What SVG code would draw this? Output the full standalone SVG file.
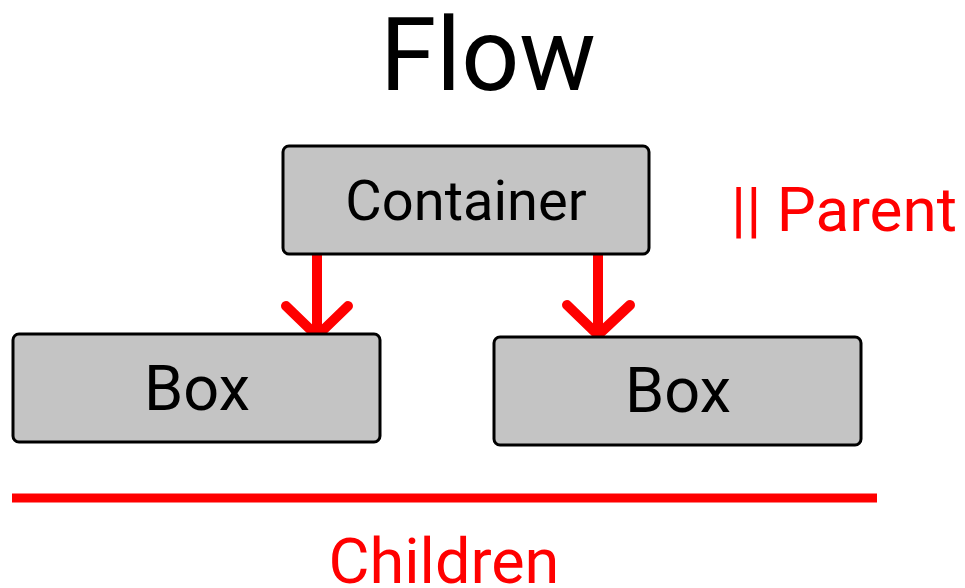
<svg xmlns="http://www.w3.org/2000/svg" width="965" height="588" viewBox="0 0 965 588">
  <style>
    .box { fill: #c4c4c4; stroke: #000; stroke-width: 3; }
    .lbl { font-family: Roboto, "Liberation Sans", sans-serif; fill: #000; text-anchor: middle; }
    .red { font-family: Roboto, "Liberation Sans", sans-serif; fill: #ff0000; }
    .conn { fill: none; stroke: #ff0000; stroke-width: 10; }
    .head { fill: none; stroke: #ff0000; stroke-width: 10; stroke-linecap: round; stroke-linejoin: round; }
  </style>
  <rect width="965" height="588" fill="#fff"/>

  <text id="title" class="lbl" x="488" y="90" font-size="102">Flow</text>

  <g id="connectors">
    <line class="conn" x1="317" y1="255" x2="317" y2="332"/>
    <polyline class="head" points="286,306 317,336 348,306"/>
    <line class="conn" x1="598" y1="255" x2="598" y2="332"/>
    <polyline class="head" points="567,305 598,335 630,305"/>
  </g>

  <g id="container">
    <rect class="box" x="283" y="146" width="366" height="108" rx="6"/>
    <text class="lbl" x="466" y="220" font-size="56">Container</text>
  </g>

  <g id="box-left">
    <rect class="box" x="13" y="334" width="367" height="108" rx="6"/>
    <text class="lbl" x="197" y="410" font-size="63">Box</text>
  </g>

  <g id="box-right">
    <rect class="box" x="494" y="337" width="367" height="108" rx="6"/>
    <text class="lbl" x="678" y="412" font-size="63">Box</text>
  </g>

  <text id="parent" class="red" x="731" y="231" font-size="62">|| Parent</text>

  <line id="children-rule" x1="12" y1="498" x2="877" y2="498" stroke="#ff0000" stroke-width="9"/>
  <text id="children" class="red" x="444" y="583" font-size="63" text-anchor="middle">Children</text>
</svg>
